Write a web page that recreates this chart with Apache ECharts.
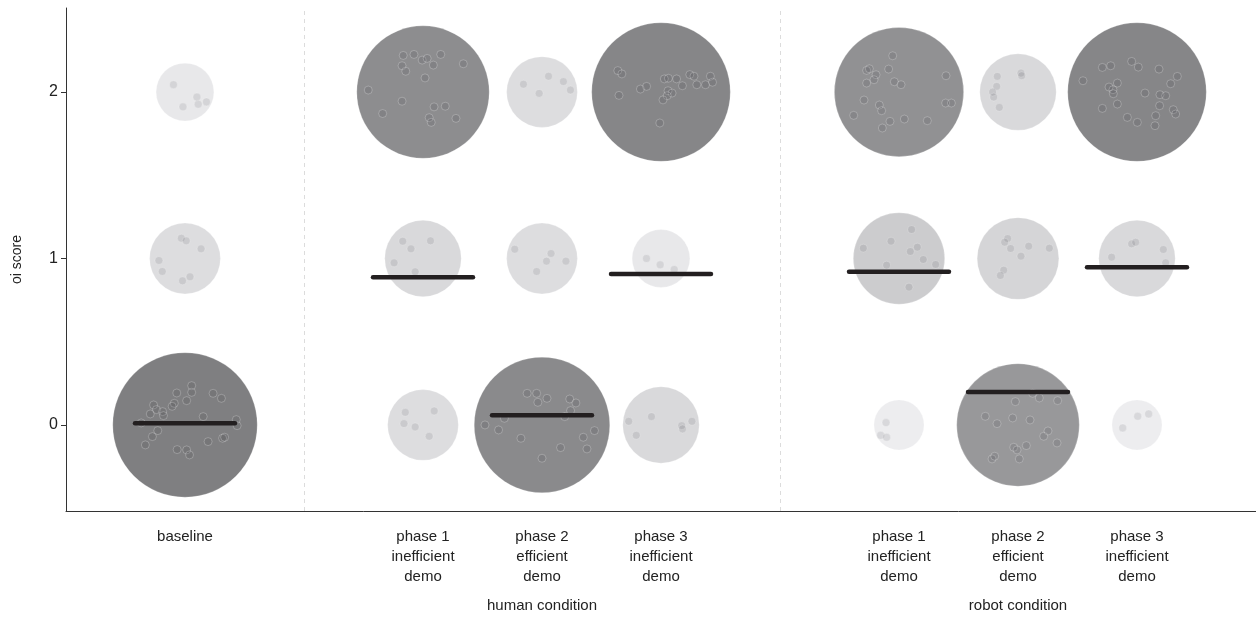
<!DOCTYPE html>
<html>
<head>
<meta charset="utf-8">
<title>oi score by phase</title>
<script src="https://cdn.jsdelivr.net/npm/echarts@6/dist/echarts.min.js"></script>
<style>
  html, body { margin: 0; padding: 0; background: #fff; }
  #chart { width: 1256px; height: 617px; }
</style>
</head>
<body>
<div id="chart"></div>
<script>
// x positions of each column (baseline, human phases 1-3, robot phases 1-3)
const positions = [0, 2, 3, 4, 6, 7, 8];
const columnLabels = [
  'baseline',
  'phase 1\ninefficient\ndemo', 'phase 2\nefficient\ndemo', 'phase 3\ninefficient\ndemo',
  'phase 1\ninefficient\ndemo', 'phase 2\nefficient\ndemo', 'phase 3\ninefficient\ndemo'
];
const conditionPositions = [3, 7];
const conditionLabels = ['human condition', 'robot condition'];
const separators = [1, 5];
const scoreTicks = [0, 1, 2];

// number of participants at each score, per column
const countsScore0 = [25, 6, 22, 7, 3, 18, 3];
const countsScore1 = [6, 7, 6, 4, 10, 8, 7];
const countsScore2 = [4, 21, 6, 23, 20, 7, 23];

// mean score per column
const means = [0.01, 0.887, 0.058, 0.907, 0.921, 0.198, 0.947];

// individual observations: [score, x offset, y offset]
const dotsBaseline = [
  [2,-0.097,0.044],[2,0.100,-0.030],[2,0.111,-0.073],[2,0.180,-0.059],[2,-0.017,-0.089],
  [1,-0.031,0.122],[1,0.010,0.106],[1,0.135,0.058],[1,-0.219,-0.012],[1,-0.191,-0.078],[1,0.042,-0.110],[1,-0.021,-0.134],
  [0,0.056,0.236],[0,0.056,0.196],[0,-0.069,0.192],[0,0.236,0.190],[0,0.306,0.160],[0,0.014,0.146],
  [0,-0.090,0.130],[0,-0.108,0.112],[0,-0.264,0.120],[0,-0.240,0.092],[0,-0.188,0.080],[0,-0.292,0.066],
  [0,-0.181,0.056],[0,-0.368,0.012],[0,0.153,0.050],[0,0.431,0.032],[0,0.438,-0.004],[0,-0.229,-0.034],
  [0,-0.274,-0.070],[0,-0.333,-0.120],[0,-0.066,-0.148],[0,0.014,-0.150],[0,0.038,-0.180],[0,0.194,-0.100],
  [0,0.316,-0.080],[0,0.333,-0.074]
];
const dotsHuman1 = [
  [2,-0.166,0.220],[2,-0.076,0.226],[2,-0.007,0.192],[2,0.035,0.202],[2,0.087,0.162],[2,0.149,0.226],
  [2,0.339,0.170],[2,-0.176,0.158],[2,-0.145,0.125],[2,0.017,0.085],[2,-0.460,0.012],[2,-0.176,-0.055],
  [2,0.093,-0.089],[2,0.187,-0.085],[2,0.052,-0.154],[2,0.069,-0.182],[2,0.277,-0.158],[2,-0.339,-0.129],
  [1,-0.170,0.104],[1,0.063,0.106],[1,-0.101,0.058],[1,-0.243,-0.026],[1,-0.066,-0.080],
  [0,-0.149,0.076],[0,0.094,0.084],[0,-0.160,0.008],[0,-0.066,-0.012],[0,0.052,-0.068]
];
const dotsHuman2 = [
  [2,-0.156,0.047],[2,-0.024,-0.008],[2,0.055,0.095],[2,0.180,0.063],[2,0.239,0.012],
  [1,-0.229,0.056],[1,0.076,0.030],[1,0.038,-0.016],[1,0.201,-0.016],[1,-0.045,-0.078],
  [0,-0.125,0.190],[0,-0.045,0.190],[0,-0.035,0.136],[0,0.042,0.160],[0,0.233,0.156],[0,0.285,0.132],
  [0,0.240,0.086],[0,0.191,0.050],[0,-0.316,0.040],[0,-0.479,0.000],[0,-0.365,-0.030],[0,-0.177,-0.080],
  [0,0.441,-0.034],[0,0.347,-0.074],[0,0.156,-0.136],[0,0.378,-0.144],[0,0.000,-0.200]
];
const dotsHuman3 = [
  [2,-0.363,0.129],[2,-0.329,0.109],[2,-0.353,-0.020],[2,-0.173,0.018],[2,-0.121,0.034],[2,0.028,0.079],
  [2,0.062,0.083],[2,0.131,0.079],[2,0.180,0.038],[2,0.242,0.105],[2,0.277,0.095],[2,0.301,0.044],
  [2,0.374,0.044],[2,0.415,0.095],[2,0.433,0.059],[2,0.059,0.008],[2,0.093,-0.006],[2,0.052,-0.022],
  [2,0.017,-0.047],[2,-0.010,-0.186],
  [1,-0.122,0.000],[1,-0.007,-0.038],[1,0.111,-0.066],
  [0,-0.271,0.022],[0,-0.080,0.050],[0,-0.208,-0.062],[0,0.174,-0.004],[0,0.181,-0.024],[0,0.260,0.022]
];
const dotsRobot1 = [
  [2,-0.053,0.218],[2,-0.272,0.130],[2,-0.249,0.140],[2,-0.193,0.104],[2,-0.210,0.074],[2,-0.272,0.054],
  [2,-0.087,0.138],[2,-0.039,0.062],[2,0.017,0.044],[2,-0.294,-0.048],[2,-0.165,-0.078],[2,-0.146,-0.112],
  [2,-0.381,-0.140],[2,-0.076,-0.176],[2,-0.140,-0.216],[2,0.045,-0.162],[2,0.238,-0.172],[2,0.395,0.098],
  [2,0.392,-0.066],[2,0.440,-0.066],
  [1,0.106,0.174],[1,-0.300,0.062],[1,-0.067,0.104],[1,0.095,0.042],[1,0.154,0.068],[1,0.204,-0.006],
  [1,0.308,-0.036],[1,-0.104,-0.040],[1,0.084,-0.172],
  [0,-0.109,0.014],[0,-0.154,-0.062],[0,-0.104,-0.074]
];
const dotsRobot2 = [
  [2,-0.174,0.094],[2,0.025,0.114],[2,0.031,0.098],[2,-0.179,0.034],[2,-0.213,0.000],[2,-0.204,-0.030],[2,-0.157,-0.092],
  [1,-0.087,0.120],[1,-0.112,0.098],[1,-0.062,0.060],[1,0.090,0.074],[1,0.263,0.062],[1,0.025,0.014],
  [1,-0.120,-0.070],[1,-0.148,-0.102],
  [0,0.123,0.190],[0,0.179,0.162],[0,0.333,0.146],[0,-0.022,0.140],[0,-0.275,0.052],[0,-0.176,0.008],
  [0,-0.045,0.042],[0,0.101,0.030],[0,0.252,-0.036],[0,0.216,-0.068],[0,0.328,-0.108],[0,0.070,-0.124],
  [0,-0.036,-0.134],[0,-0.008,-0.150],[0,0.011,-0.204],[0,-0.218,-0.204],[0,-0.196,-0.188]
];
const dotsRobot3 = [
  [2,-0.291,0.148],[2,-0.221,0.158],[2,-0.045,0.184],[2,0.011,0.150],[2,0.185,0.138],[2,0.339,0.094],
  [2,0.283,0.050],[2,-0.454,0.068],[2,-0.235,0.030],[2,-0.202,0.014],[2,-0.165,0.054],[2,-0.199,-0.010],
  [2,0.067,-0.006],[2,0.193,-0.016],[2,0.241,-0.022],[2,0.190,-0.082],[2,-0.165,-0.072],[2,-0.291,-0.098],
  [2,-0.081,-0.152],[2,0.003,-0.182],[2,0.157,-0.142],[2,0.151,-0.202],[2,0.305,-0.106],[2,0.325,-0.132],
  [1,-0.213,0.008],[1,-0.045,0.088],[1,-0.011,0.098],[1,0.221,0.054],[1,0.241,-0.026],
  [0,-0.120,-0.018],[0,0.006,0.052],[0,0.098,0.066]
];
const dotGroups = [dotsBaseline, dotsHuman1, dotsHuman2, dotsHuman3, dotsRobot1, dotsRobot2, dotsRobot3];

// bubble styling: diameter grows with sqrt(count), grey darkens with count
const bubbleScale = 28.9;
const shadeCounts = [3, 6, 10, 18, 25];
const shadeGreys = [237, 221, 204, 152, 127];

function greyFor(n) {
  let g = shadeGreys[shadeGreys.length - 1];
  if (n <= shadeCounts[0]) g = shadeGreys[0];
  for (let i = 0; i < shadeCounts.length - 1; i++) {
    if (n >= shadeCounts[i] && n <= shadeCounts[i + 1]) {
      const t = (n - shadeCounts[i]) / (shadeCounts[i + 1] - shadeCounts[i]);
      g = shadeGreys[i] + t * (shadeGreys[i + 1] - shadeGreys[i]);
      break;
    }
  }
  g = Math.round(g);
  return 'rgb(' + g + ',' + g + ',' + (g + 2) + ')';
}

const countsByScore = [countsScore0, countsScore1, countsScore2];
const bubbleData = [];
positions.forEach((x, i) => {
  scoreTicks.forEach((s) => {
    const n = countsByScore[s][i];
    bubbleData.push({ value: [x, s, n], itemStyle: { color: greyFor(n) } });
  });
});

const dotData = [];
dotGroups.forEach((dots, i) => {
  dots.forEach((d) => dotData.push([positions[i] + d[1], d[0] + d[2]]));
});

const meanData = positions.map((x, i) => [x, means[i]]);
const meanHalfWidth = 0.42;

const labelFont = { fontFamily: 'Liberation Sans, Arial, sans-serif', color: '#222' };

const chart = echarts.init(document.getElementById('chart'), null, { renderer: 'canvas' });
chart.setOption({
  animation: false,
  backgroundColor: '#fff',
  grid: { left: 66, top: 8, width: 1193, height: 503, containLabel: false },
  xAxis: [
    {
      type: 'value', min: -1, max: 9,
      axisLine: { show: true, onZero: false, lineStyle: { color: '#333', width: 1 } },
      axisTick: { show: false },
      splitLine: { show: false },
      axisLabel: {
        customValues: positions,
        formatter: (v) => { const i = positions.indexOf(v); return i >= 0 ? columnLabels[i] : ''; },
        fontSize: 15, lineHeight: 20, margin: 16, ...labelFont
      }
    },
    {
      type: 'value', min: -1, max: 9, position: 'bottom',
      axisLine: { show: false, onZero: false }, axisTick: { show: false }, splitLine: { show: false },
      axisLabel: {
        customValues: conditionPositions,
        formatter: (v) => { const i = conditionPositions.indexOf(v); return i >= 0 ? conditionLabels[i] : ''; },
        fontSize: 15, lineHeight: 20, margin: 85, ...labelFont
      }
    }
  ],
  yAxis: {
    type: 'value', min: -0.517, max: 2.505,
    name: 'oi score', nameLocation: 'middle', nameGap: 42, nameRotate: 90,
    nameTextStyle: { fontSize: 14, ...labelFont },
    axisLine: { show: true, onZero: false, lineStyle: { color: '#333', width: 1 } },
    axisTick: { show: true, customValues: scoreTicks, length: 5, lineStyle: { color: '#333' } },
    axisLabel: { customValues: scoreTicks, fontSize: 16, margin: 8, ...labelFont },
    splitLine: { show: false }
  },
  series: [
    {
      type: 'scatter', name: 'counts', z: 2,
      data: bubbleData,
      symbolSize: (v) => bubbleScale * Math.sqrt(v[2]),
      itemStyle: { opacity: 1, borderColor: 'rgba(255,255,255,0.22)', borderWidth: 1 },
      markLine: {
        silent: true, symbol: ['none', 'none'], label: { show: false },
        lineStyle: { color: '#dcdcdc', type: [4, 4], width: 1 },
        data: separators.map((x) => ({ xAxis: x }))
      }
    },
    {
      type: 'scatter', name: 'observations', z: 3,
      data: dotData, symbolSize: 8,
      itemStyle: { color: 'rgba(40,40,45,0.13)', borderColor: 'rgba(255,255,255,0.3)', borderWidth: 1 }
    },
    {
      type: 'custom', name: 'mean', z: 4,
      data: meanData,
      renderItem: (params, api) => {
        const x = api.value(0), y = api.value(1);
        const a = api.coord([x - meanHalfWidth, y]);
        const b = api.coord([x + meanHalfWidth, y]);
        return {
          type: 'line',
          shape: { x1: a[0], y1: a[1], x2: b[0], y2: b[1] },
          style: { stroke: '#231f20', lineWidth: 4.5, lineCap: 'round' }
        };
      }
    }
  ]
});
</script>
</body>
</html>
